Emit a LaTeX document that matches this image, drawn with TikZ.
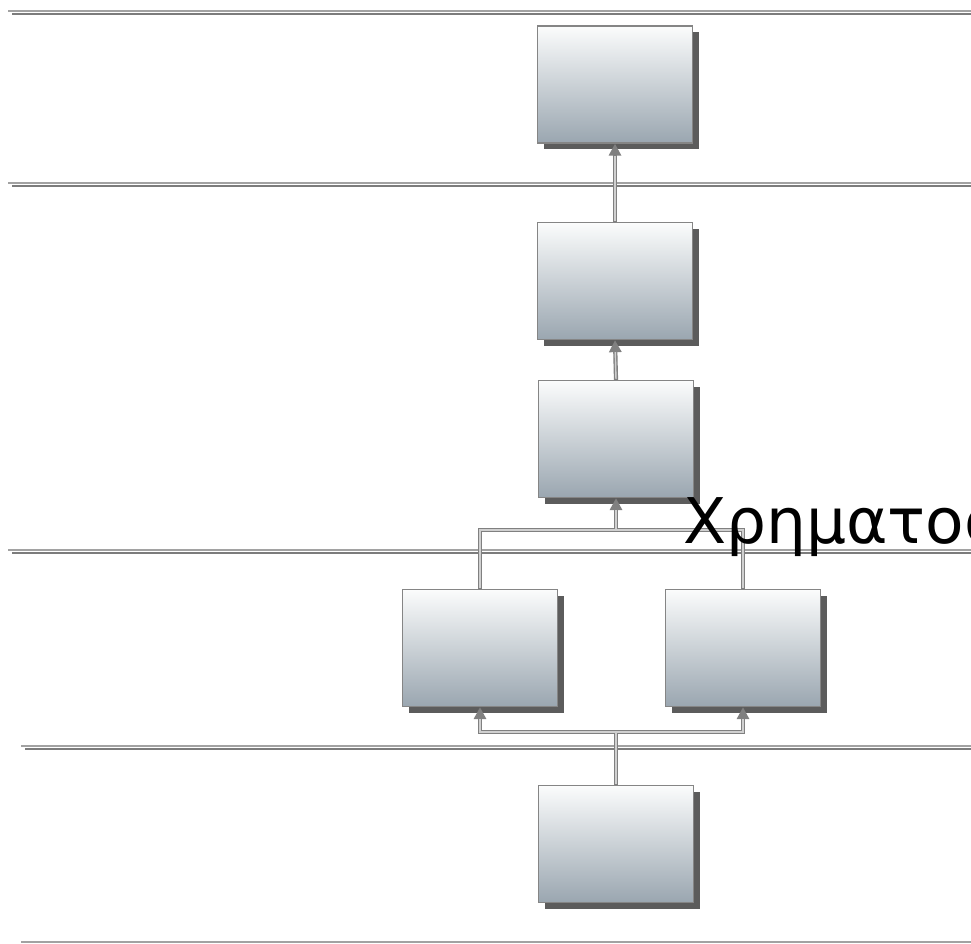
\documentclass[tikz,border=0pt]{standalone}
\usepackage{fontspec}
\usetikzlibrary{arrows.meta,shadows}
\newfontfamily\greekfont{DejaVu Sans}
\definecolor{ruleface}{HTML}{A2A2A2}
\definecolor{ruleshade}{HTML}{7C7C7C}
\definecolor{boxtop}{HTML}{FBFCFC}
\definecolor{boxbottom}{HTML}{9AA6B0}
\definecolor{boxedge}{HTML}{858585}
\definecolor{wireedge}{HTML}{808080}
\definecolor{wirecore}{HTML}{D0D0D0}
\tikzset{
  x=1pt, y=1pt,
  stagebox/.style={rectangle, draw=boxedge, line width=1.3pt,
    minimum width=155pt, minimum height=117pt, inner sep=0pt,
    top color=boxtop, bottom color=boxbottom,
    drop shadow={shadow xshift=6pt, shadow yshift=-6pt, fill=black!75, opacity=0.85}},
  wire/.style={draw=wireedge, line width=4.2pt, line join=miter},
  wiretip/.style={wire, -{Triangle[length=12pt,width=12pt]}},
  wireinner/.style={draw=wirecore, line width=1.4pt},
  rulefront/.style={draw=ruleface, line width=1.8pt},
  ruleback/.style={draw=ruleshade, line width=2pt},
}
\begin{document}
\begin{tikzpicture}
\clip (0,0) rectangle (971,-944);
\fill[white] (0,0) rectangle (971,-944);

% horizontal separators with their offset shadows
\foreach \yy/\xs in {11/8, 183/8, 550/8, 746/21, 942/21}{
  \draw[ruleback] (\xs+4,-\yy-2.6) -- (980,-\yy-2.6);
  \draw[rulefront] (\xs,-\yy) -- (980,-\yy);
}

% stages
\node[stagebox] (b1) at (615,-84.5) {};
\node[stagebox] (b2) at (615,-281) {};
\node[stagebox] (b3) at (616,-439) {};
\node[stagebox] (b4) at (480,-648) {};
\node[stagebox] (b5) at (743,-648) {};
\node[stagebox] (b6) at (616,-844) {};

% junction points of the branching links
\coordinate (j1) at (616,-530);
\coordinate (j2) at (616,-732);

% straight links
\draw[wiretip] (b2.north) -- (b1.south);
\draw[wireinner, shorten >=12pt, shorten <=1pt] (b2.north) -- (b1.south);
\draw[wiretip] (b3.north) -- (b2.south);
\draw[wireinner, shorten >=12pt, shorten <=1pt] (b3.north) -- (b2.south);

% two stages merging into one
\draw[wire] (b4.north) |- (j1);
\draw[wire] (b5.north) |- (j1);
\draw[wiretip] (j1) -- (b3.south);
\draw[wireinner, shorten <=1pt] (b4.north) |- (j1);
\draw[wireinner, shorten <=1pt] (b5.north) |- (j1);
\draw[wireinner, shorten >=12pt] (j1) -- (b3.south);

% one stage feeding two
\draw[wire] (b6.north) -- (j2);
\draw[wiretip] (j2) -| (b4.south);
\draw[wiretip] (j2) -| (b5.south);
\draw[wireinner, shorten <=1pt] (b6.north) -- (j2);
\draw[wireinner, shorten >=12pt] (j2) -| (b4.south);
\draw[wireinner, shorten >=12pt] (j2) -| (b5.south);

% heading running off the right edge
\node[anchor=base west, inner sep=0pt, font=\greekfont\fontsize{63}{63}\selectfont]
  (title) at (683,-543) {Χρηματοοικονομική};
\end{tikzpicture}
\end{document}
